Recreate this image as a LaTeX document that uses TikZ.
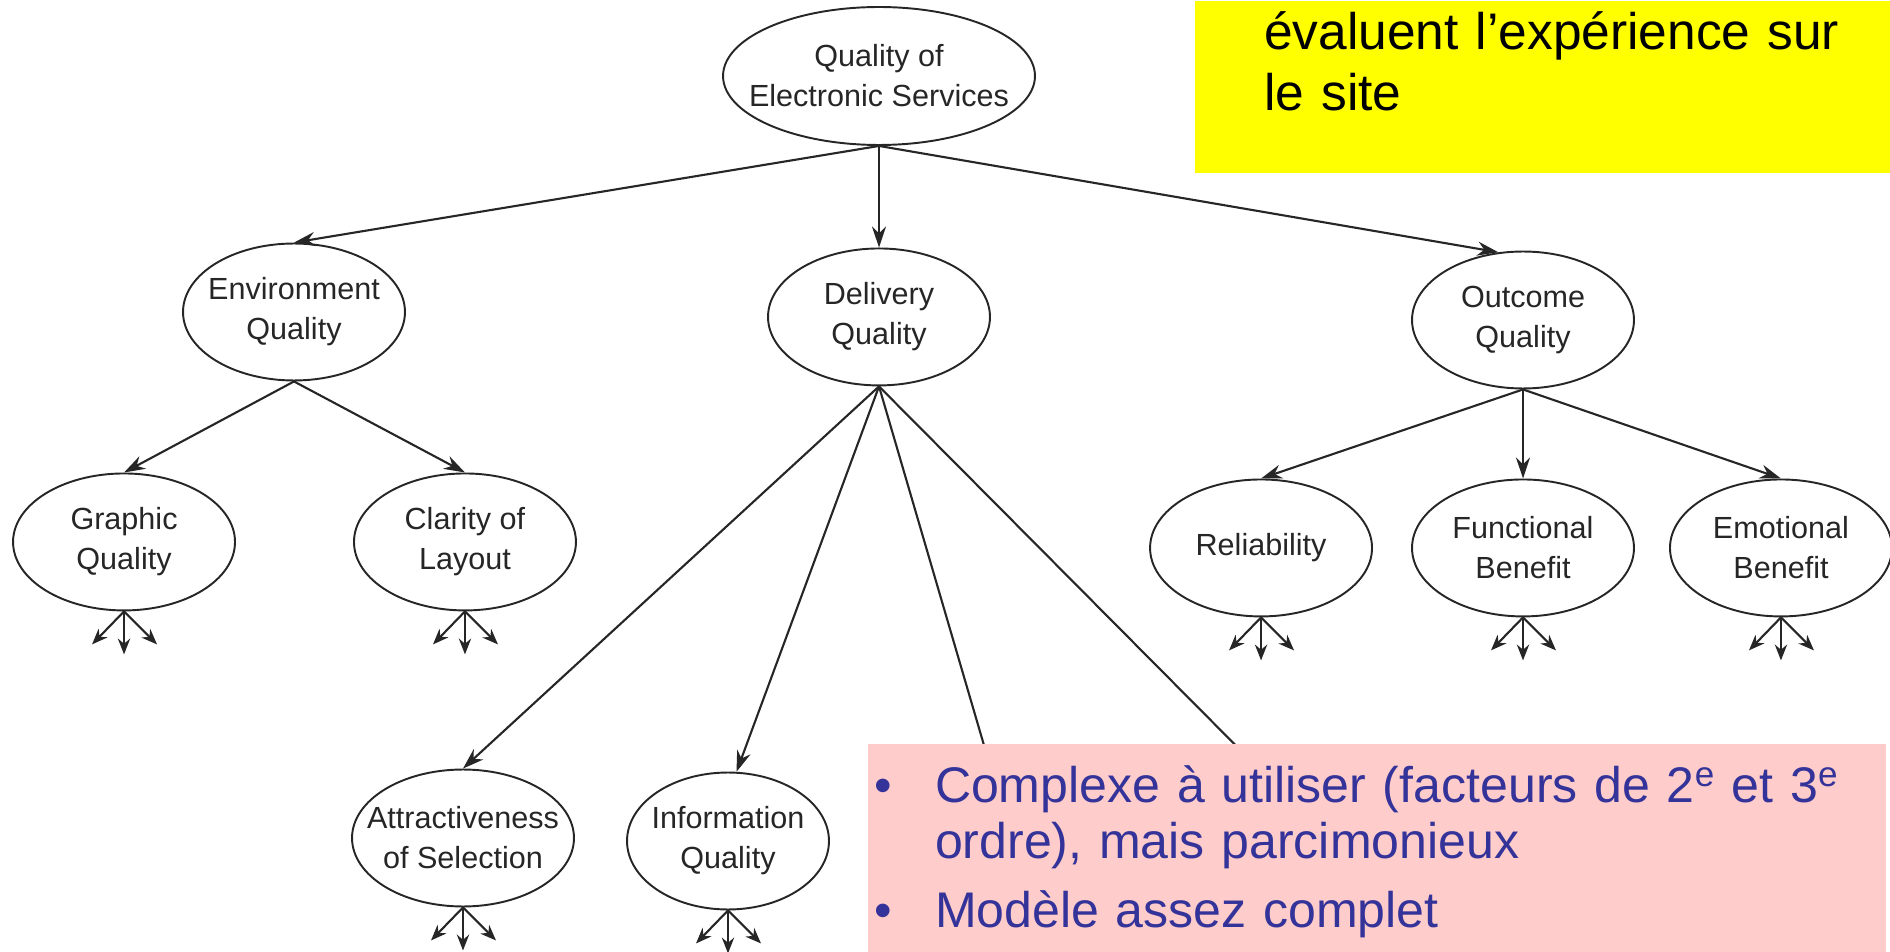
\documentclass[tikz,border=0pt]{standalone}
\usepackage{fontspec}
\setmainfont{Liberation Sans}
\usetikzlibrary{shapes.geometric,arrows.meta}
\definecolor{inkgray}{RGB}{38,38,38}
\definecolor{notepink}{RGB}{255,204,204}
\definecolor{noteblue}{RGB}{51,51,153}
\definecolor{noteyellow}{RGB}{255,255,0}

\begin{document}
\begin{tikzpicture}[x=0.02cm,y=-0.02cm,inkgray,line width=1.2pt,
  >={Stealth[length=12pt,width=8pt]},
  qual/.style={ellipse,draw,line width=1.1pt,inner sep=-2cm,minimum width=4.44cm,minimum height=2.74cm,
    align=center,font=\fontsize{17.4}{22.8}\selectfont},
  fan/.style={->,>={Stealth[length=9pt,width=7pt]}},
  notebox/.style={anchor=north west,inner sep=0pt},
  notetext/.style={anchor=base west,inner sep=0pt,align=left,text width=25cm,
    font=\fontsize{28.5}{32}\selectfont}]
  \useasboundingbox (0,0) rectangle (1890,952);

  \node[qual,minimum width=6.24cm,minimum height=2.76cm] (root) at (879,76) {Quality of\\Electronic Services};
  \node[qual] (env) at (294,312) {Environment\\Quality};
  \node[qual,below of=root,node distance=4.82cm] (deliv) {Delivery\\Quality};
  \node[qual] (outc) at (1523,320) {Outcome\\Quality};
  \node[qual,below of=env,node distance=4.6cm,xshift=-3.4cm] (graph) {Graphic\\Quality};
  \node[qual,below of=env,node distance=4.6cm,xshift=3.42cm] (clar) {Clarity of\\Layout};
  \node[qual] (attr) at (463,838) {Attractiveness\\of Selection};
  \node[qual,minimum width=4.04cm] (info) at (728,841) {Information\\Quality};
  \node[qual,below of=outc,node distance=4.56cm] (func) {Functional\\Benefit};
  \node[qual,left of=func,node distance=5.24cm] (reli) {Reliability};
  \node[qual,right of=func,node distance=5.16cm] (emot) {Emotional\\Benefit};

  \draw[->] (root.south) -- (env.north);
  \draw[->] (root.south) -- (deliv.north);
  \draw[->] (root.south) -- (outc.110);
  \draw[->] (env.south) -- (graph.north);
  \draw[->] (env.south) -- (clar.north);
  \draw[->] (deliv.south) -- (attr.north);
  \draw[->] (deliv.south) -- (info.83);
  \coordinate (hid1) at (1000,800);
  \coordinate (hid2) at (1290,800);
  \draw (deliv.south) -- (hid1);
  \draw (deliv.south) -- (hid2);
  \draw[->] (outc.south) -- (reli.north);
  \draw[->] (outc.south) -- (func.north);
  \draw[->] (outc.south) -- (emot.north);

  \foreach \leaf in {graph,clar,attr,info,reli,func,emot} {
    \coordinate (\leaf-l) at ([shift={(-32,33)}]\leaf.south);
    \coordinate (\leaf-m) at ([shift={(0,43)}]\leaf.south);
    \coordinate (\leaf-r) at ([shift={(33,33)}]\leaf.south);
    \draw[fan] (\leaf.south) -- (\leaf-l);
    \draw[fan] (\leaf.south) -- (\leaf-m);
    \draw[fan] (\leaf.south) -- (\leaf-r);
  }

  \node[notebox,fill=noteyellow,minimum width=13.92cm,minimum height=3.44cm] (note) at (1194,0) {};
  \node[notetext,black,font=\fontsize{29.3}{34.5}\selectfont] (notetxt) at (1263,50) {évaluent l’expérience sur\\le site};

  \node[notebox,fill=notepink,minimum width=20.36cm,minimum height=4.18cm] (remark) at (867,743) {};
  \node[notetext,noteblue] (remarktxt) at (873,802)
    {\makebox[1.22cm][l]{•}Complexe à utiliser (facteurs de 2\textsuperscript{e} et 3\textsuperscript{e}\\
     \hspace*{1.22cm}ordre), mais parcimonieux\\[0.26cm]
     \makebox[1.22cm][l]{•}Modèle assez complet};
\end{tikzpicture}
\end{document}
